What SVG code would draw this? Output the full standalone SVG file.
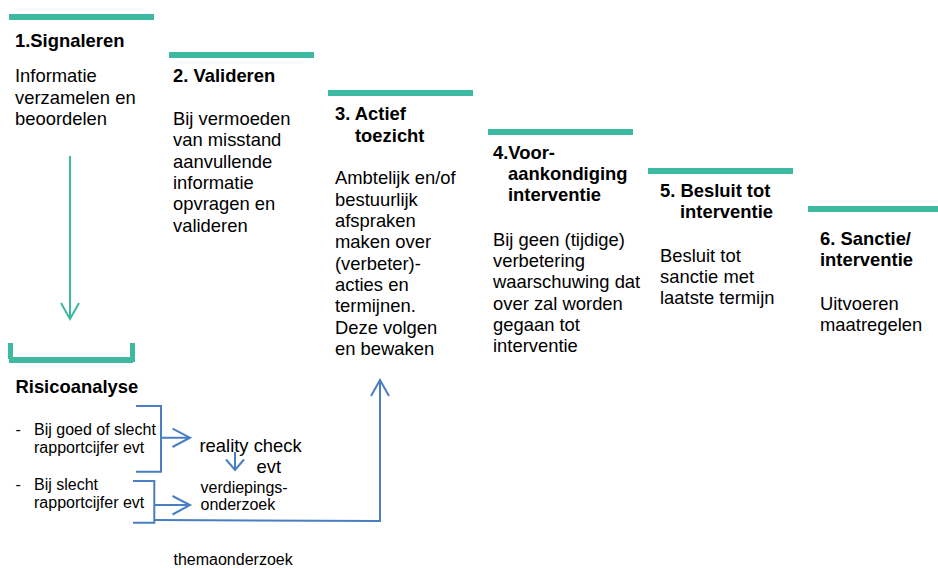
<svg xmlns="http://www.w3.org/2000/svg" width="938" height="568" viewBox="0 0 938 568">
<style>
text{font-family:"Liberation Sans",Arial,sans-serif;fill:#000}
.h{font-size:18.4px;font-weight:bold}
.b{font-size:18.4px}
.s{font-size:16px}
.bar{fill:#3CB99E}
.g{stroke:#3CB99E;stroke-width:2;fill:none}
.bl{stroke:#4A7EC2;stroke-width:2;fill:none;stroke-linejoin:miter}
</style>
<rect width="938" height="568" fill="#fff"/>
<g id="stage1">
<rect class="bar" x="9" y="14" width="145" height="6"/>
<text class="h" x="15" y="47">1.Signaleren</text>
<text class="b" x="15" y="82.3">Informatie</text>
<text class="b" x="15" y="103.6">verzamelen en</text>
<text class="b" x="15" y="125">beoordelen</text>
</g>
<g id="stage2">
<rect class="bar" x="169" y="52" width="145" height="6"/>
<text class="h" x="173" y="82">2. Valideren</text>
<text class="b" x="173" y="125">Bij vermoeden</text>
<text class="b" x="173" y="146.3">van misstand</text>
<text class="b" x="173" y="167.6">aanvullende</text>
<text class="b" x="173" y="189">informatie</text>
<text class="b" x="173" y="210.3">opvragen en</text>
<text class="b" x="173" y="231.6">valideren</text>
</g>
<g id="stage3">
<rect class="bar" x="328" y="90" width="145" height="6"/>
<text class="h" x="335" y="120">3. Actief</text>
<text class="h" x="355" y="141.7">toezicht</text>
<text class="b" x="335" y="184.3">Ambtelijk en/of</text>
<text class="b" x="335" y="205.6">bestuurlijk</text>
<text class="b" x="335" y="227">afspraken</text>
<text class="b" x="335" y="248.3">maken over</text>
<text class="b" x="335" y="269.6">(verbeter)-</text>
<text class="b" x="335" y="291">acties en</text>
<text class="b" x="335" y="312.3">termijnen.</text>
<text class="b" x="335" y="333.6">Deze volgen</text>
<text class="b" x="335" y="355">en bewaken</text>
</g>
<g id="stage4">
<rect class="bar" x="488" y="129" width="145" height="6"/>
<text class="h" x="493" y="159">4.Voor-</text>
<text class="h" x="508" y="180">aankondiging</text>
<text class="h" x="508" y="200.7">interventie</text>
<text class="b" x="493" y="245.7">Bij geen (tijdige)</text>
<text class="b" x="493" y="267">verbetering</text>
<text class="b" x="493" y="288.3">waarschuwing dat</text>
<text class="b" x="493" y="309.6">over zal worden</text>
<text class="b" x="493" y="331">gegaan tot</text>
<text class="b" x="493" y="352.3">interventie</text>
</g>
<g id="stage5">
<rect class="bar" x="648" y="168" width="145" height="6"/>
<text class="h" x="660" y="197.3">5. Besluit tot</text>
<text class="h" x="680" y="218.3">interventie</text>
<text class="b" x="660" y="261.7">Besluit tot</text>
<text class="b" x="660" y="283">sanctie met</text>
<text class="b" x="660" y="304.3">laatste termijn</text>
</g>
<g id="stage6">
<rect class="bar" x="808" y="206" width="130" height="6"/>
<text class="h" x="820" y="245">6. Sanctie/</text>
<text class="h" x="820" y="265.5">interventie</text>
<text class="b" x="820" y="310">Uitvoeren</text>
<text class="b" x="820" y="331.3">maatregelen</text>
</g>
<g id="risicoanalyse">
<rect class="bar" x="8" y="343" width="5" height="16"/>
<rect class="bar" x="130" y="343" width="5" height="19"/>
<rect class="bar" x="9" y="357" width="124" height="6"/>
<text class="h" x="15.5" y="393.3">Risicoanalyse</text>
<text class="s" x="15.5" y="435">-</text>
<text class="s" x="34" y="435">Bij goed of slecht</text>
<text class="s" x="34" y="453.3">rapportcijfer evt</text>
<text class="s" x="15.5" y="490">-</text>
<text class="s" x="34" y="490">Bij slecht</text>
<text class="s" x="34" y="508.3">rapportcijfer evt</text>
</g>
<g id="reality-check">
<text class="b" x="199.5" y="452.3">reality check</text>
<text class="b" x="256.5" y="473.3">evt</text>
</g>
<g id="verdieping">
<text class="s" x="200.5" y="493.3">verdiepings-</text>
<text class="s" x="200.5" y="510.3">onderzoek</text>
</g>
<g id="thema">
<text class="s" x="173.5" y="565">themaonderzoek</text>
</g>
<g id="connectors">
<path class="g" d="M70,156 V319 M61,303 L70,319 L79,303"/>
<path class="bl" d="M136,406 H161 V471.7 H136"/>
<path class="bl" d="M161,437.7 H189 M172.5,428.7 L190,437.7 L172.5,447"/>
<path class="bl" d="M133,481 H154.3 V522.7 H133"/>
<path class="bl" d="M154.3,505 H189 M172.5,496 L190,505 L172.5,514.5"/>
<path class="bl" d="M154.3,520 L380,521 V380 M371,396 L380,380 L389,396"/>
<path class="bl" d="M235,452 V470 M226,459.5 L235,470 L244,459.5"/>
</g>
</svg>
